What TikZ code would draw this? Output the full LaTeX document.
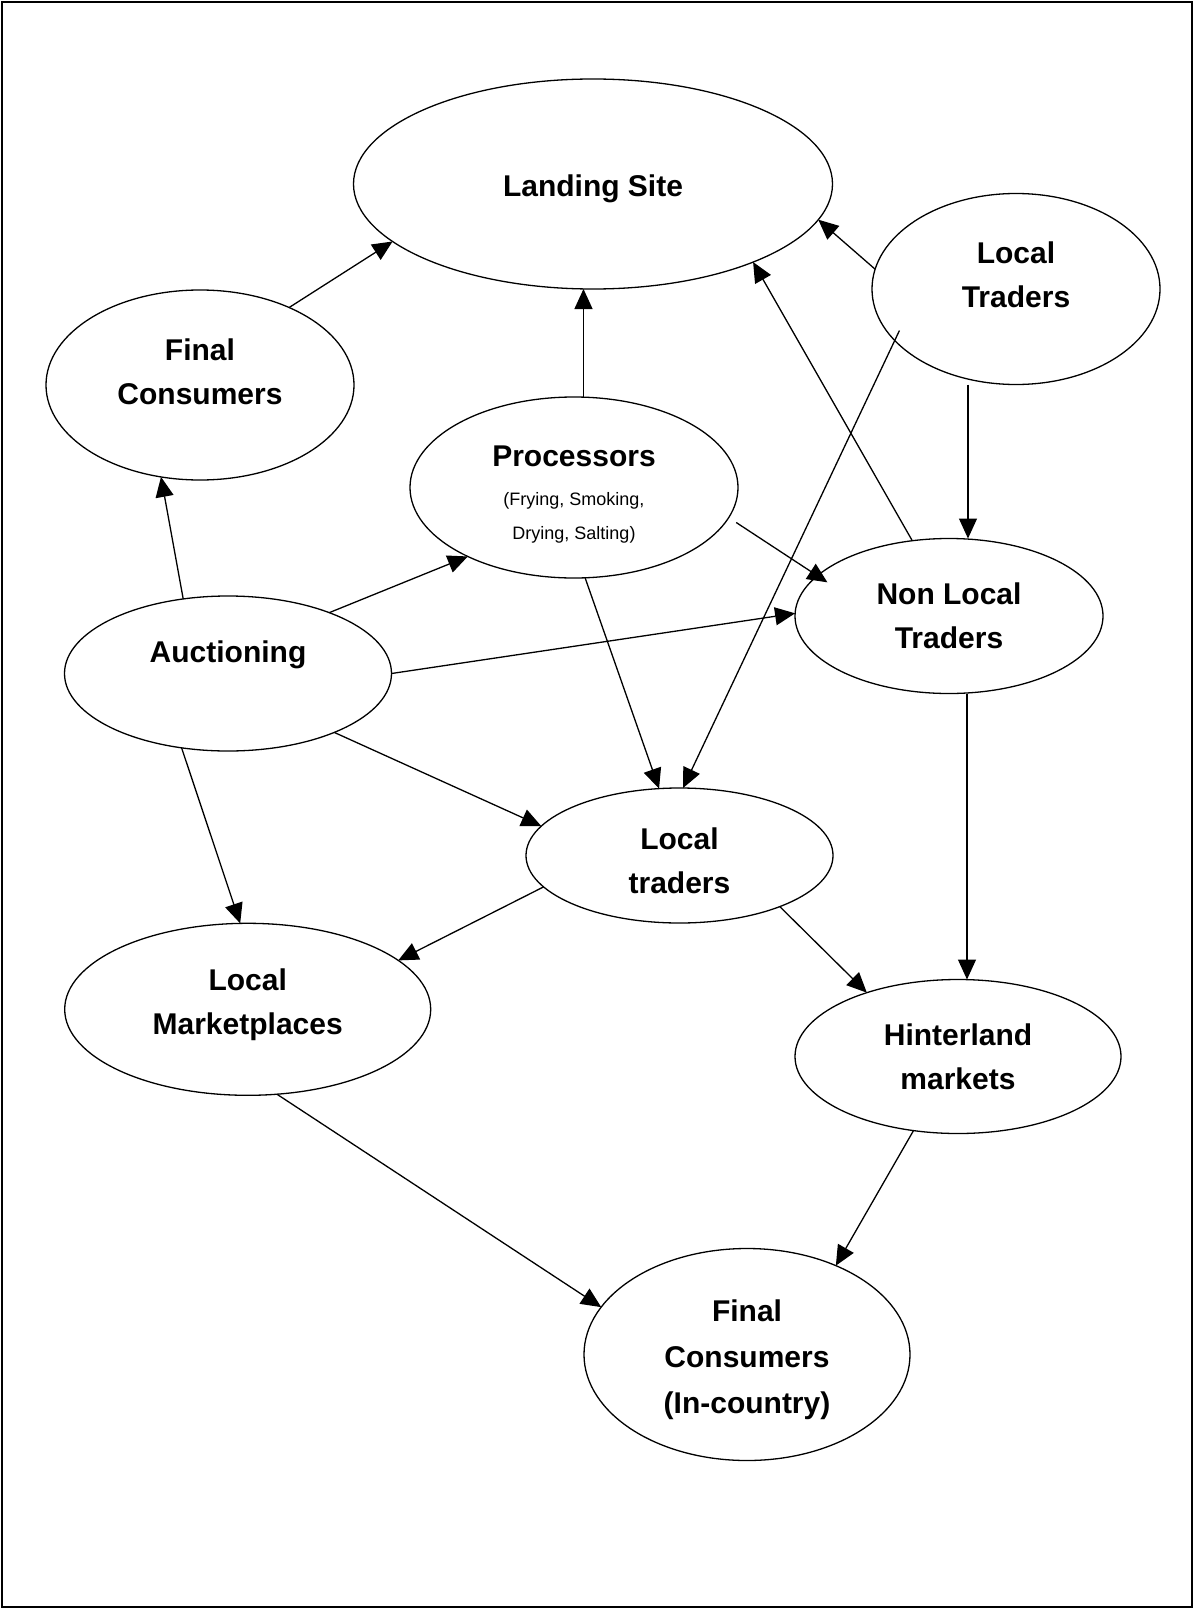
\documentclass[tikz,border=0pt]{standalone}
\usepackage{fontspec}
\setmainfont{Liberation Sans}
\usetikzlibrary{shapes.geometric,arrows.meta}
\newcommand{\lifted}[2]{\raisebox{#1}[\height][\depth]{#2}}
\newcommand{\rows}[1]{\begin{tabular}{@{}c@{}}#1\end{tabular}}
\begin{document}
\begin{tikzpicture}[x=1pt,y=-1pt,
  oval/.style={ellipse, draw, line width=1.3pt, inner sep=0pt, outer sep=0pt,
    font=\fontsize{30}{44}\selectfont\bfseries},
  flow/.style={line width=1.3pt, -{Triangle[length=20pt,width=18pt]}}]
\fill[white] (0,0) rectangle (1193,1608);
\useasboundingbox (0,0) rectangle (1193,1608);
\draw[line width=2pt] (2,2) rectangle (1191.5,1607);

\node[oval, minimum width=479pt, minimum height=210pt] (LS) at (593,184)
  {\lifted{-4pt}{\rows{Landing Site}}};
\node[oval, minimum width=288pt, minimum height=191pt] (LT) at (1016,289)
  {\lifted{12pt}{\rows{Local\\Traders}}};
\node[oval, minimum width=308pt, minimum height=190pt] (FC) at (200,385)
  {\lifted{11pt}{\rows{Final\\Consumers}}};
\node[oval, minimum width=328pt, minimum height=181pt] (PR) at (574,487.5)
  {\lifted{-9pt}{\fontsize{18}{34}\selectfont\mdseries\rows{{\fontsize{30}{36}\selectfont\bfseries Processors}\\[5.3pt](Frying, Smoking,\\Drying, Salting)}}};
\node[oval, minimum width=308pt, minimum height=155pt] (NL) at (949,616)
  {\lifted{-2pt}{\rows{Non Local\\Traders}}};
\node[oval, minimum width=327pt, minimum height=155pt] (AU) at (228,673.5)
  {\lifted{20pt}{\rows{Auctioning}}};
\node[oval, minimum width=307pt, minimum height=135pt] (LTm) at (679.5,855.5)
  {\lifted{-7pt}{\rows{Local\\traders}}};
\node[oval, minimum width=366pt, minimum height=172pt] (LM) at (247.7,1009.3)
  {\lifted{5.5pt}{\rows{Local\\Marketplaces}}};
\node[oval, minimum width=326pt, minimum height=154pt] (HM) at (958,1056.5)
  {\lifted{-2pt}{\rows{Hinterland\\markets}}};
\node[oval, minimum width=326pt, minimum height=212pt] (FCI) at (747,1354.5)
  {\lifted{-4pt}{\rows{Final\\[2pt]Consumers\\[2pt](In-country)}}};

\draw[flow] (FC.41) -- (LS.196);
\draw[flow] (PR.84) -- (PR.84 |- LS.south);
\draw[flow] (LT.172) -- (LS.351);
\draw[flow] (NL.116) -- (LS.334);
\draw[flow, shorten <=-11pt] (LT.203) -- (LTm.87);
\draw[flow] ([xshift=-48pt]LT.south) -- ([xshift=-48pt]LT.south |- NL.north);
\draw[flow] (AU.121) -- (FC.247);
\draw[flow] (AU.31) -- (PR.213);
\draw[flow, shorten <=9pt, shorten >=-12pt] (PR.349) -- (NL.163);
\draw[flow] (AU.0) -- (NL.179);
\draw[flow] (PR.277) -- (LTm.107);
\draw[flow] (AU.331) -- (LTm.168);
\draw[flow] (AU.238) -- (LM.95);
\draw[flow] (LTm.193) -- (LM.18);
\draw[flow] (LTm.333) -- (HM.145);
\draw[flow] ([xshift=18pt]NL.south) -- ([xshift=18pt]NL.south |- HM.north);
\draw[flow] (LM.289) -- (FCI.162);
\draw[flow] (HM.239) -- (FCI.45);
\end{tikzpicture}
\end{document}
